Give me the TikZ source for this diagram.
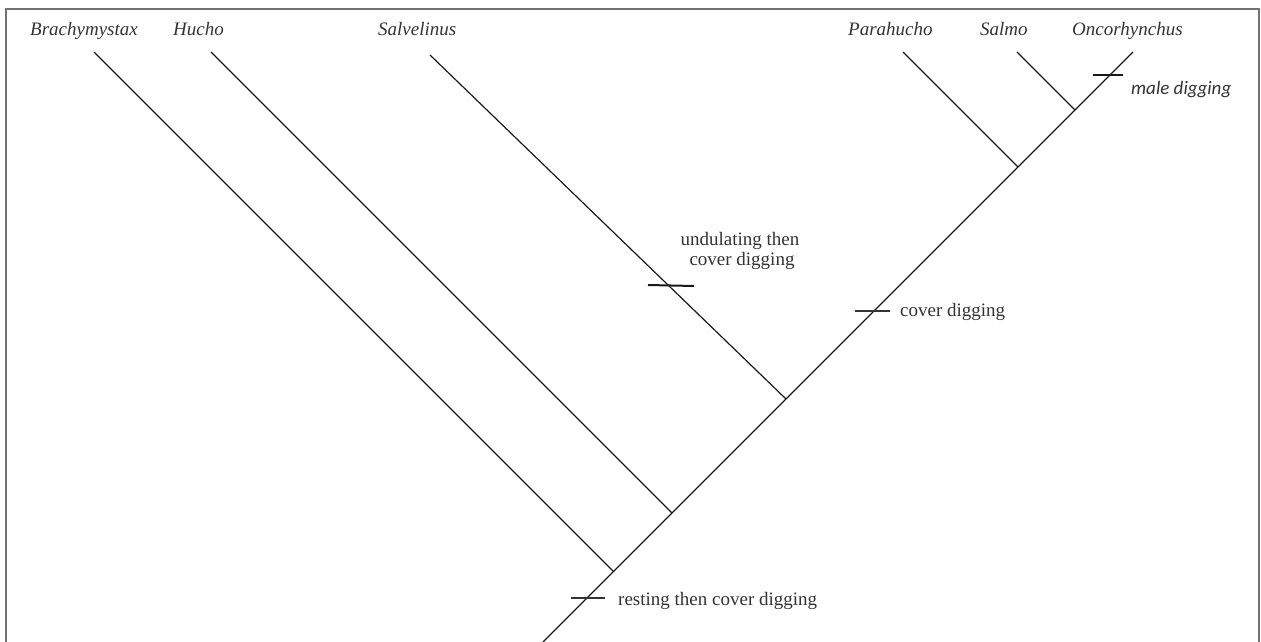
\documentclass[tikz,border=0pt]{standalone}
\usepackage{fontspec}
\setmainfont{Liberation Serif}
\newfontfamily\calib{Carlito}
\begin{document}
\begin{tikzpicture}[x=1pt,y=-1pt,
  branch/.style={line width=1.2pt, draw=black!90},
  tickmark/.style={line width=1.5pt, draw=black!80},
  thicktick/.style={line width=2pt, draw=black!90},
  taxon/.style={font=\fontsize{19}{20}\selectfont\itshape, text=black!80, anchor=base west, inner sep=0pt},
  trait/.style={font=\fontsize{19}{20}\selectfont, text=black!80, inner sep=0pt},
  frame/.style={draw=black!55, line width=1.5pt}]
\useasboundingbox (0,0) rectangle (1261,642);
\draw[frame] (6,720) -- (6,9) -- (1259,9) -- (1259,720);

% tips
\coordinate (tipB) at (94,52);
\coordinate (tipH) at (211,52);
\coordinate (tipSv) at (430,55);
\coordinate (tipP) at (903,52);
\coordinate (tipSm) at (1017,52);
\coordinate (tipO) at (1133,52);
% internal nodes
\coordinate (root) at (543,642);
\coordinate (nB) at (613.5,571.5);
\coordinate (nH) at (672,513);
\coordinate (nSv) at (786,399);
\coordinate (nP) at (1018,167);
\coordinate (nSm) at (1075,110);

% trunk
\draw[branch] (root) -- (nB) -- (nH) -- (nSv) -- (nP) -- (nSm) -- (tipO);
% side branches
\draw[branch] (tipB) -- (nB);
\draw[branch] (tipH) -- (nH);
\draw[branch] (tipSv) -- (nSv);
\draw[branch] (tipP) -- (nP);
\draw[branch] (tipSm) -- (nSm);

% taxa
\node[taxon] (lB) at (30,36) {Brachymystax};
\node[taxon] (lH) at (173,36) {Hucho};
\node[taxon] (lSv) at (378,36) {Salvelinus};
\node[taxon] (lP) at (848,36) {Parahucho};
\node[taxon] (lSm) at (980,36) {Salmo};
\node[taxon] (lO) at (1072,36) {Oncorhynchus};

% character ticks
\coordinate (t1a) at (648,285); \coordinate (t1b) at (694,286);
\draw[thicktick] (t1a) -- (t1b);
\coordinate (t2a) at (855,311); \coordinate (t2b) at (890,311);
\draw[tickmark] (t2a) -- (t2b);
\coordinate (t3a) at (571,598); \coordinate (t3b) at (605,598);
\draw[tickmark] (t3a) -- (t3b);
\coordinate (t4a) at (1093,75); \coordinate (t4b) at (1123,75);
\draw[thicktick] (t4a) -- (t4b);

% character labels
\node[trait, anchor=base] (c1a) at (740,245) {undulating then};
\node[trait, anchor=base] (c1b) at (742,265) {cover digging};
\node[trait, anchor=base west] (c2) at (900,316) {cover digging};
\node[trait, anchor=base west] (c3) at (618,605) {resting then cover digging};
\node[trait, anchor=base west, font=\fontsize{19}{20}\calib\itshape] (c4) at (1131,94) {male digging};
\end{tikzpicture}
\end{document}
